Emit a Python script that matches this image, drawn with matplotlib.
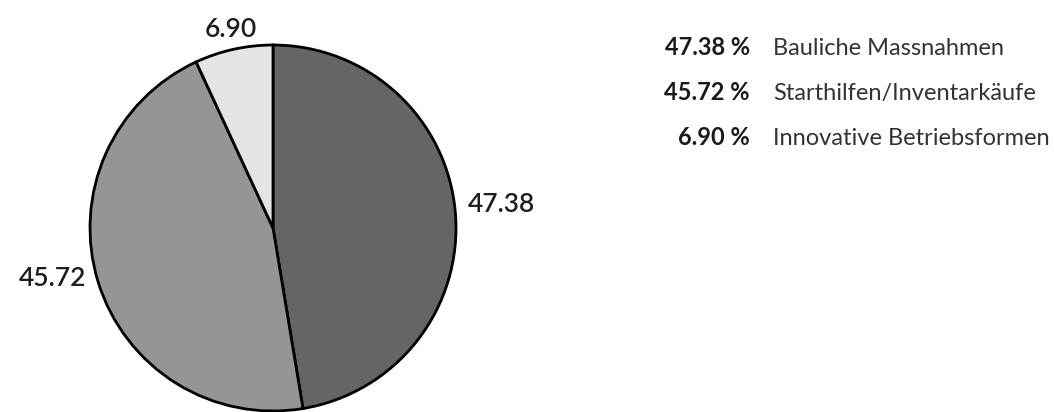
import matplotlib
matplotlib.use("Agg")
import numpy as np
import matplotlib.pyplot as plt

# Förderbeiträge nach Massnahme, in Prozent
namen = ["Bauliche Massnahmen", "Starthilfen/Inventarkäufe", "Innovative Betriebsformen"]
anteile = [47.38, 45.72, 6.90]
farben = ["#646567", "#959595", "#e3e4e3"]

plt.rcParams["font.family"] = ["Lato", "DejaVu Sans"]

W, H = 1054, 412
fig = plt.figure(figsize=(W / 100, H / 100), dpi=100)

# Kreis: Mittelpunkt (273, 228) px, Radius 183 px
cx, cy, r = 273, 228, 183
ax = fig.add_axes([(cx - r) / W, (H - cy - r) / H, 2 * r / W, 2 * r / H])
wedges, _ = ax.pie(
    anteile,
    colors=farben,
    startangle=90,
    counterclock=False,
    wedgeprops=dict(edgecolor="black", linewidth=2),
)
ax.set_xlim(-1, 1)
ax.set_ylim(-1, 1)
ax.set_aspect("equal")
ax.axis("off")

# Werte ausserhalb der Segmente
for w, a in zip(wedges, anteile):
    mitte = np.deg2rad((w.theta1 + w.theta2) / 2)
    x, y = 1.07 * np.cos(mitte), 1.07 * np.sin(mitte)
    if x > 0.3:
        ha = "left"
    elif x < -0.3:
        ha = "right"
    else:
        ha = "center"
    ax.text(x, y, "%.2f" % a, ha=ha, va="baseline", fontsize=19,
            color="#1e1e1e", fontweight="semibold")

# Legende rechts
zeilen_y = [55, 100, 145]
for y, a, n in zip(zeilen_y, anteile, namen):
    fig.text(750 / W, 1 - y / H, "%.2f %%" % a, ha="right", va="baseline",
             fontsize=17, color="#1a1a1a", fontweight="bold")
    fig.text(773 / W, 1 - y / H, n, ha="left", va="baseline",
             fontsize=17, color="#333333", fontweight="normal")

fig.savefig("out.png", dpi=100)
